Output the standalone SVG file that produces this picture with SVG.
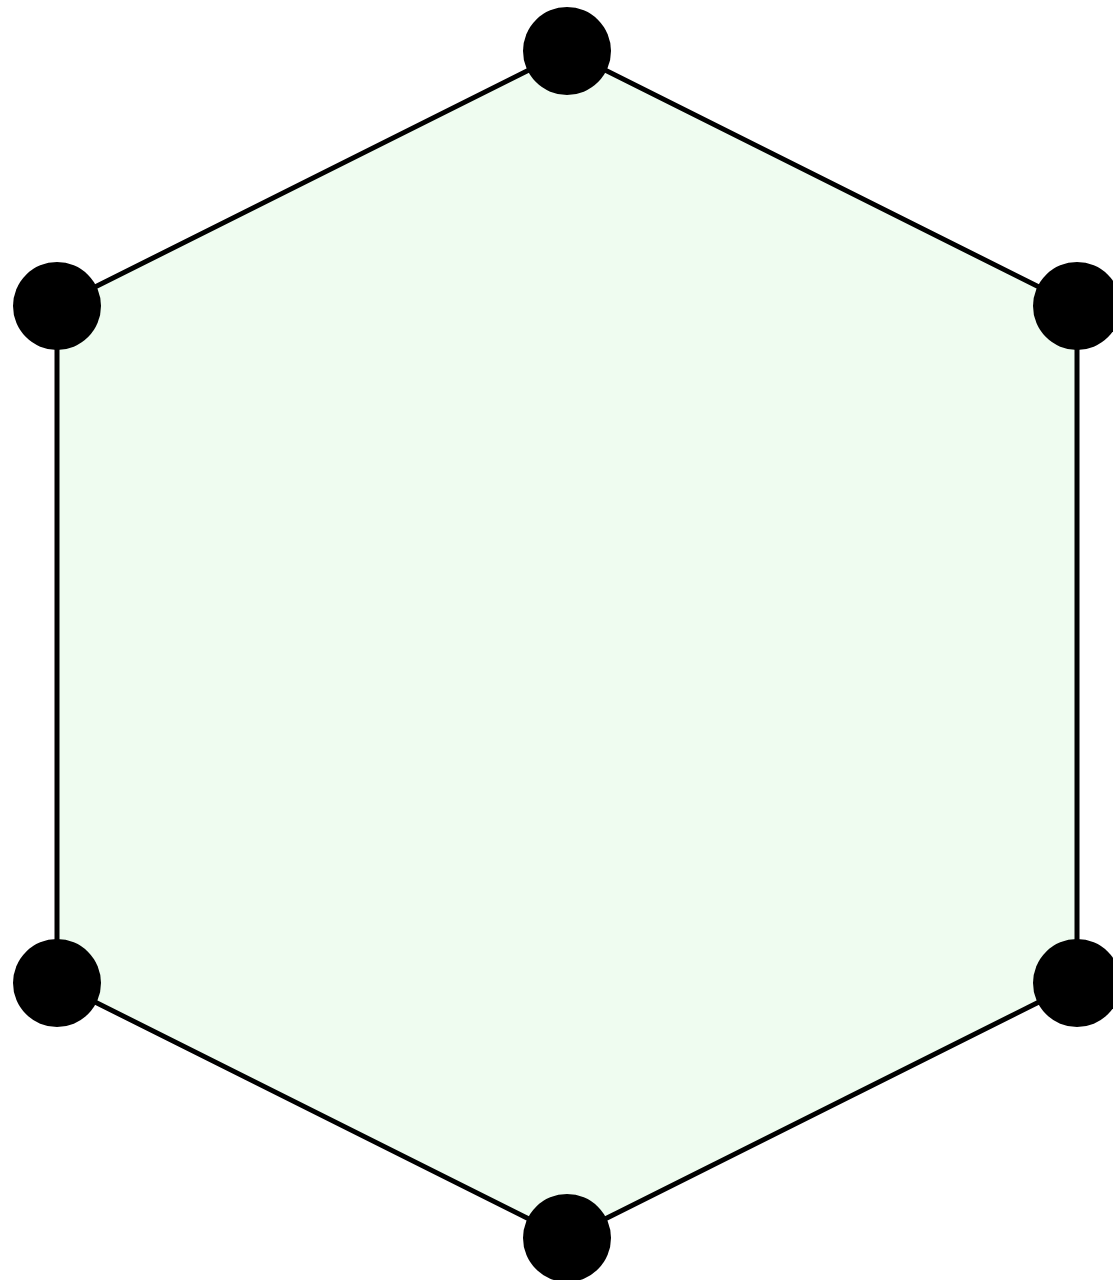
<svg xmlns="http://www.w3.org/2000/svg" width="1113" height="1280" viewBox="0 0 1113 1280">
<style>
.edge{stroke:#000;stroke-width:5;fill:none;stroke-linecap:round}
.vertex{fill:#000}
.face{fill:#effcf0;stroke:none}
</style>
<rect width="1113" height="1280" fill="#fff"/>
<polygon class="face" points="567,51 1077,306 1077,983 567,1238 57,983 57,306"/>
<g id="connectors">
<line class="edge" x1="567" y1="51" x2="1077" y2="306"/>
<line class="edge" x1="1077" y1="306" x2="1077" y2="983"/>
<line class="edge" x1="1077" y1="983" x2="567" y2="1238"/>
<line class="edge" x1="567" y1="1238" x2="57" y2="983"/>
<line class="edge" x1="57" y1="983" x2="57" y2="306"/>
<line class="edge" x1="57" y1="306" x2="567" y2="51"/>
</g>
<g id="v1"><circle class="vertex" cx="567" cy="51" r="44"/></g>
<g id="v2"><circle class="vertex" cx="1077" cy="306" r="44"/></g>
<g id="v3"><circle class="vertex" cx="1077" cy="983" r="44"/></g>
<g id="v4"><circle class="vertex" cx="567" cy="1238" r="44"/></g>
<g id="v5"><circle class="vertex" cx="57" cy="983" r="44"/></g>
<g id="v6"><circle class="vertex" cx="57" cy="306" r="44"/></g>
</svg>
